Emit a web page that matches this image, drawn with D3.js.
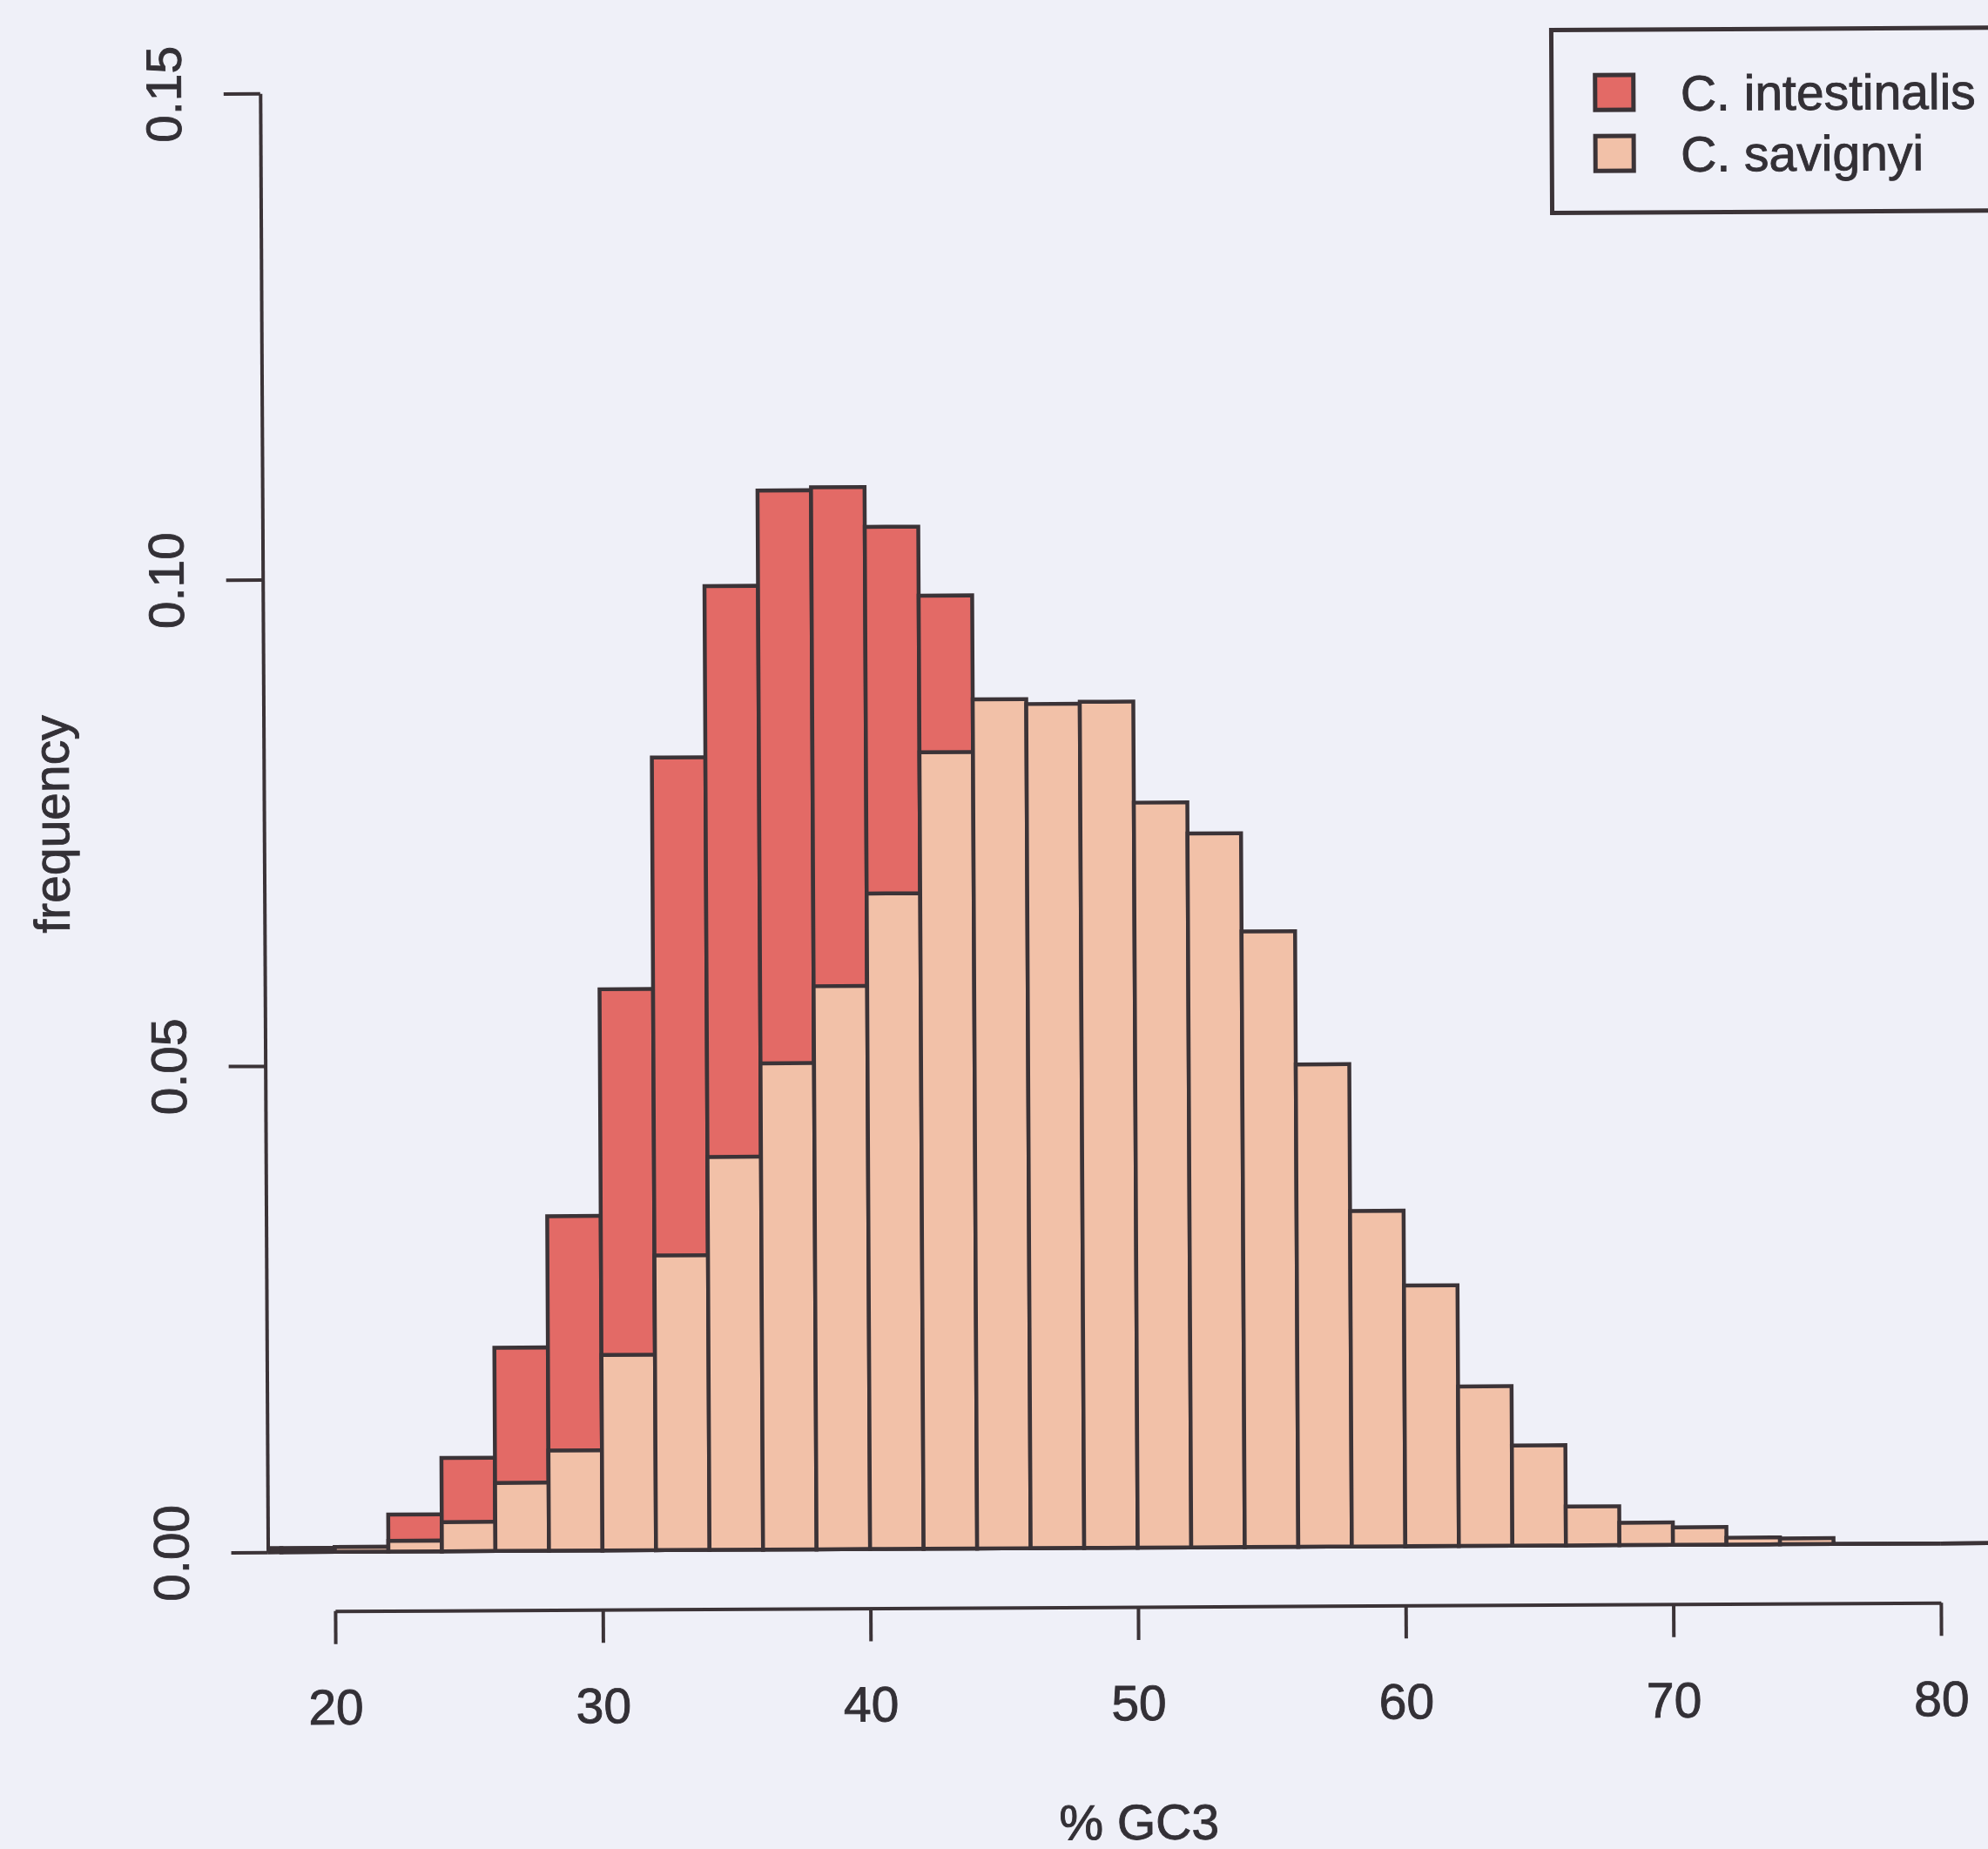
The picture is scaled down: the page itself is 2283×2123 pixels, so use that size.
<!DOCTYPE html>
<html>
<head>
<meta charset="utf-8">
<script src="https://cdn.jsdelivr.net/npm/d3@7"></script>
<style>
  html, body { margin: 0; padding: 0; background: #eff0f8; }
  svg { display: block; }
</style>
</head>
<body>
<script>
// Histogram of third-codon-position GC content (% GC3), two Ciona species.
// Left edge of each 2-unit bin.
const binStarts = [16, 18, 20, 22, 24, 26, 28, 30, 32, 34, 36, 38, 40, 42, 44, 46,
                   48, 50, 52, 54, 56, 58, 60, 62, 64, 66, 68, 70, 72, 74, 76, 78, 80, 82];
const binWidth = 2;

// Proportion of genes in each bin.
const intestinalis = [0.0004, 0.0004, 0.0005, 0.0038, 0.0096, 0.0209, 0.0344, 0.0577,
                      0.0815, 0.0991, 0.1089, 0.1092, 0.1051, 0.0980, 0.0800, 0.0620,
                      0.0440, 0.0300, 0.0190, 0.0110, 0.0060, 0.0035, 0.0020, 0.0010,
                      0.0005, 0.0003, 0.0002, 0.0001, 0.0001, 0.0001, 0, 0, 0, 0];
const savignyi     = [0.0004, 0.0004, 0.0005, 0.0011, 0.0030, 0.0070, 0.0103, 0.0201,
                      0.0303, 0.0404, 0.0500, 0.0579, 0.0674, 0.0819, 0.0873, 0.0868,
                      0.0870, 0.0766, 0.0734, 0.0633, 0.0496, 0.0345, 0.0268, 0.0164,
                      0.0103, 0.0040, 0.0023, 0.0018, 0.0007, 0.0006, 0, 0, 0, 0];

const seriesNames = ["C. intestinalis", "C. savignyi"];
const xTicks = [20, 30, 40, 50, 60, 70, 80];
const yTicks = [0.00, 0.05, 0.10, 0.15];
const xTitle = "% GC3";
const yTitle = "frequency";

const W = 2283, H = 2123;
const COL = { bg: "#eff0f8", ink: "#3b3337", text: "#333036",
              red: "#e36a66", peach: "#f2c1a8" };
const FONT = "'Liberation Sans', Arial, Helvetica, sans-serif";
const FS = 57;

const svg = d3.select("body").append("svg")
  .attr("width", W).attr("height", H)
  .attr("viewBox", `0 0 ${W} ${H}`);

svg.append("rect").attr("width", W).attr("height", H).attr("fill", COL.bg);

// Whole figure sits with a slight counter-clockwise tilt.
const root = svg.append("g").attr("transform", "rotate(-0.3, 1300, 1100)");

const x = d3.scaleLinear().domain([20, 80]).range([381, 2225]);
const y = d3.scaleLinear().domain([0, 0.15]).range([1777, 102]);
const plotLeft = 304;

// Bars are clipped to the plotting region (left of the y axis is cut off).
root.append("clipPath").attr("id", "plotclip")
  .append("rect").attr("x", plotLeft).attr("y", 0).attr("width", W + 200).attr("height", H);

const bars = root.append("g").attr("clip-path", "url(#plotclip)");

// Each bin is a closed path so that empty bins still show their outline.
function binPath(d) {
  const x0 = x(d.b), x1 = x(d.b + binWidth), y0 = y(0), y1 = y(d.v);
  return `M${x0},${y0}V${y1}H${x1}V${y0}Z`;
}

function drawHist(values, fill) {
  bars.append("g").selectAll("path")
    .data(binStarts.map((b, i) => ({ b, v: values[i] })))
    .join("path")
      .attr("d", binPath)
      .attr("fill", fill)
      .attr("stroke", COL.ink)
      .attr("stroke-width", 4.5)
      .attr("stroke-linejoin", "miter");
}
drawHist(intestinalis, COL.red);
drawHist(savignyi, COL.peach);

function styleText(sel) {
  sel.attr("fill", COL.text)
     .attr("stroke", COL.text).attr("stroke-width", 0.9)
     .style("font-family", FONT).style("font-size", FS + "px");
}

// Y axis, labels parallel to the axis.
const yAxis = root.append("g")
  .attr("transform", `translate(${plotLeft},0)`)
  .style("color", COL.ink)
  .call(d3.axisLeft(y).tickValues(yTicks).tickSize(42).tickSizeOuter(0)
          .tickFormat(d3.format(".2f")));
yAxis.selectAll("path, line").attr("stroke-width", 4);
yAxis.selectAll(".tick text")
  .attr("transform", "rotate(-90)")
  .attr("x", 0).attr("y", -91).attr("dy", 0)
  .attr("text-anchor", "middle")
  .call(styleText);

// X axis, drawn below the bars.
const xAxis = root.append("g")
  .attr("transform", "translate(0,1845)")
  .style("color", COL.ink)
  .call(d3.axisBottom(x).tickValues(xTicks).tickSize(38).tickSizeOuter(0)
          .tickFormat(d3.format("d")));
xAxis.selectAll("path, line").attr("stroke-width", 4);
xAxis.selectAll(".tick text")
  .attr("y", 130).attr("dy", 0)
  .call(styleText);

// Axis titles.
root.append("text")
  .attr("transform", "translate(80,940) rotate(-90)")
  .attr("text-anchor", "middle")
  .call(styleText)
  .text(yTitle);

root.append("text")
  .attr("x", x(50)).attr("y", 2112)
  .attr("text-anchor", "middle")
  .call(styleText)
  .text(xTitle);

// Legend box in the top-right corner.
const legend = root.append("g");
legend.append("rect")
  .attr("x", 1787).attr("y", 37).attr("width", 620).attr("height", 210)
  .attr("fill", COL.bg).attr("stroke", COL.ink).attr("stroke-width", 5);

const legendItems = seriesNames.map((name, i) => ({ name, fill: [COL.red, COL.peach][i] }));
const item = legend.selectAll("g.item").data(legendItems).join("g")
  .attr("class", "item")
  .attr("transform", (d, i) => `translate(0,${i * 70})`);
item.append("rect")
  .attr("x", 1837).attr("y", 89).attr("width", 44).attr("height", 40)
  .attr("fill", d => d.fill).attr("stroke", COL.ink).attr("stroke-width", 5);
item.append("text")
  .attr("x", 1935).attr("y", 130)
  .call(styleText)
  .text(d => d.name);
</script>
</body>
</html>
